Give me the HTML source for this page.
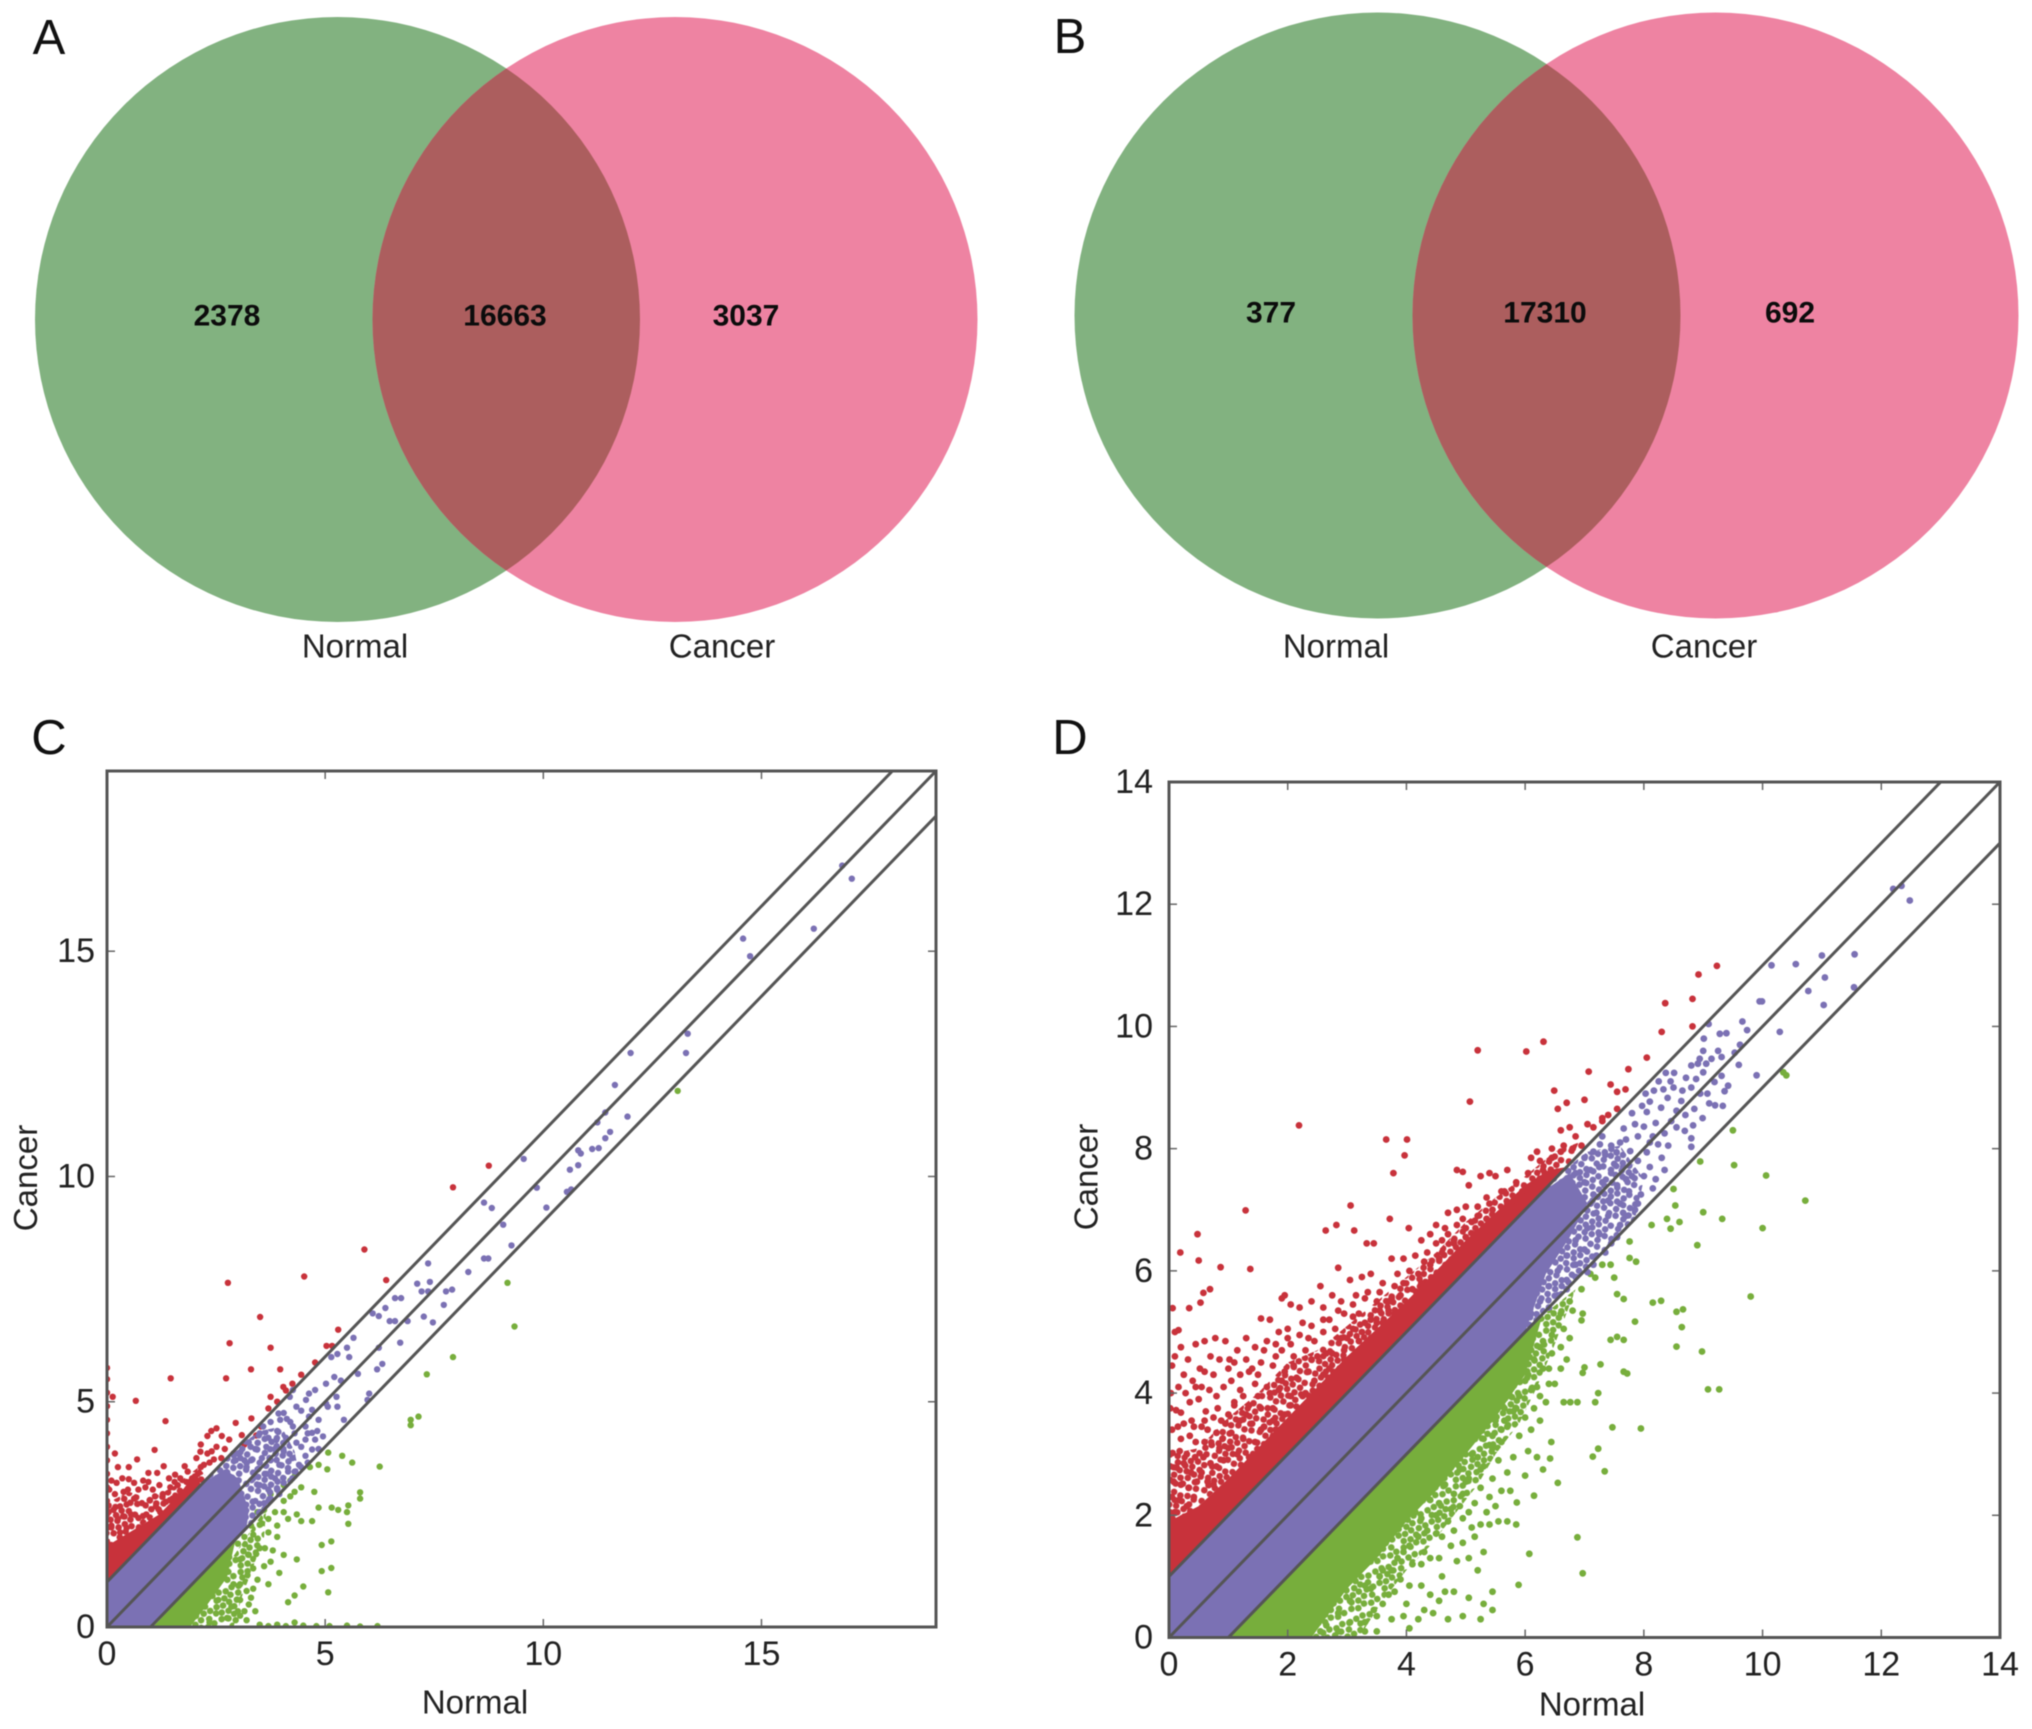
<!DOCTYPE html>
<html>
<head>
<meta charset="utf-8">
<title>Venn diagrams and scatter plots</title>
<style>
html,body{margin:0;padding:0;background:#fff;}
svg{display:block;filter:blur(.6px);}
text{font-family:"Liberation Sans",sans-serif;fill:#222;}
.num{font-weight:bold;font-size:30px;fill:#0c0c0c;text-anchor:middle;dominant-baseline:central;}
.lab{font-size:33px;text-anchor:middle;dominant-baseline:central;}
.panel{font-size:49px;text-anchor:middle;dominant-baseline:central;fill:#111;}
</style>
</head>
<body>
<svg id="fig" xmlns="http://www.w3.org/2000/svg" width="2032" height="1729" viewBox="0 0 2032 1729">
<defs>
<clipPath id="clipA"><circle cx="337.5" cy="319.5" r="302.5"/></clipPath>
<clipPath id="clipB"><circle cx="1377.5" cy="315.5" r="303"/></clipPath>
<g id="stipple-tile">
<circle cx="4" cy="4" r="3.3"/><circle cx="11" cy="3.4" r="3.3"/><circle cx="18" cy="5" r="3.3"/><circle cx="25" cy="3.4" r="3.3"/><circle cx="32" cy="5" r="3.3"/>
<circle cx="6" cy="10" r="3.3"/><circle cx="14" cy="11" r="3.3"/><circle cx="21" cy="10" r="3.3"/><circle cx="29" cy="11" r="3.3"/>
<circle cx="3.4" cy="16" r="3.3"/><circle cx="10" cy="17" r="3.3"/><circle cx="17" cy="16" r="3.3"/><circle cx="25" cy="17" r="3.3"/><circle cx="32" cy="17" r="3.3"/>
<circle cx="6" cy="23" r="3.3"/><circle cx="13" cy="24" r="3.3"/><circle cx="20" cy="22" r="3.3"/><circle cx="28" cy="24" r="3.3"/>
<circle cx="3.4" cy="29" r="3.3"/><circle cx="10" cy="31" r="3.3"/><circle cx="17" cy="29" r="3.3"/><circle cx="24" cy="31" r="3.3"/><circle cx="31" cy="30" r="3.3"/>
</g>
<pattern id="stipple-red" width="36" height="36" patternUnits="userSpaceOnUse" patternTransform="rotate(17)" fill="#c8323b"><use href="#stipple-tile"/></pattern>
<pattern id="stipple-green" width="36" height="36" patternUnits="userSpaceOnUse" patternTransform="rotate(-23)" fill="#77ae3c"><use href="#stipple-tile"/></pattern>
<pattern id="stipple-purple" width="36" height="36" patternUnits="userSpaceOnUse" patternTransform="rotate(31)" fill="#7b71b4"><use href="#stipple-tile"/></pattern>
</defs>
<rect width="2032" height="1729" fill="#fff"/>

<g>
<circle cx="337.5" cy="319.5" r="302.5" fill="#82b280"/>
<circle cx="675" cy="319.5" r="302.5" fill="#ee83a2"/>
<circle cx="675" cy="319.5" r="302.5" fill="#ac5e5e" clip-path="url(#clipA)"/>
<text class="num" x="227" y="316">2378</text>
<text class="num" x="505" y="316">16663</text>
<text class="num" x="746" y="316">3037</text>
<text class="lab" x="355" y="646">Normal</text>
<text class="lab" x="722" y="646">Cancer</text>
<text class="panel" x="49" y="38">A</text>
</g>

<g>
<circle cx="1377.5" cy="315.5" r="303" fill="#82b280"/>
<circle cx="1715.5" cy="315.5" r="303" fill="#ee83a2"/>
<circle cx="1715.5" cy="315.5" r="303" fill="#ac5e5e" clip-path="url(#clipB)"/>
<text class="num" x="1271" y="313">377</text>
<text class="num" x="1545" y="313">17310</text>
<text class="num" x="1790" y="313">692</text>
<text class="lab" x="1336" y="646">Normal</text>
<text class="lab" x="1704" y="646">Cancer</text>
<text class="panel" x="1070" y="37">B</text>
</g>

<g>
<text class="panel" x="49" y="738">C</text>
<text class="lab" x="475" y="1702">Normal</text>
<text class="lab" transform="translate(25.5 1178) rotate(-90)">Cancer</text>
</g>
<g>
<text class="panel" x="1070" y="738">D</text>
<text class="lab" x="1592" y="1704">Normal</text>
<text class="lab" transform="translate(1086 1177) rotate(-90)">Cancer</text>
</g>
<g id="plotC"></g>
<g id="plotD"></g>
</svg>

<script>
/* ---------- Panel C values (Normal, Cancer) ---------- */
const cTicks = [0, 5, 10, 15];
const cMax = 19;
const cFoldLines = [0, 1, -1];
const cRedSolid = [[0,1],[0,1.8],[.6,2.15],[1.2,2.5],[1.7,3.0],[2.05,3.45],[2.15,3.15]];
const cRedMottled = [[0,1.7],[0,2.75],[.5,3],[1,2.85],[1.5,3.1],[2.1,3.55],[2.3,3.3]];
const cPurpleSolid = [[1,0],[0,0],[0,1],[2.15,3.15],[2.7,3.5],[3,3.3],[3.25,2.6],[3.2,2.2]];
const cPurpleMottled = [[2.15,3.15],[3,4],[3.5,4.35],[4,4.45],[4.3,3.9],[4.4,3.4],[3.2,2.2]];
const cGreenSolid = [[1.05,0],[1.9,0],[2.3,.5],[2.75,1.1],[2.95,1.95]];
const cGreenMottled = [[1.8,0],[2.9,0],[3.1,.7],[3.3,1.2],[3.6,2],[3.65,2.65]];
const cRed = [[8.75,10.24],[7.93,9.76],[5.9,8.38],[4.52,7.78],[2.77,7.64],[6.4,7.7],[3.51,6.88],[5.3,6.6],[2.81,6.3],[3.75,6.2],[5.03,6.24],[5.16,6.24],[4.77,5.87],[1.46,5.52],[2.73,5.52],[3.3,5.72],[3.97,5.72],[4.04,5.33],[3.75,5.11],[4.1,5.25],[.13,5.11],[.66,5.02],[1.34,4.57],[1.09,3.93],[3.31,4.63],[2.95,4.53],[3.53,4.45],[2.51,4.41],[2.39,4.35],[2.63,4.24],[2.3,4.24],[2.51,4],[2.14,3.89],[3.09,4.26],[2.8,4.16],[.69,3.72],[1.3,3.57],[1.78,3.57],[1.56,3.38],[.35,3.3],[.5,3.28],[.62,3.2],[.83,3.25],[.88,3.1],[1.05,3.05],[1.2,3.15],[1.45,3.1],[1.62,3.15],[1.82,3.22],[1.95,3.3],[2.02,3.15],[1.88,3.05],[1.7,2.95],[1.5,2.85],[1.35,2.78],[1.12,2.68],[.98,2.82],[.8,2.75],[.62,2.85],[.45,2.72],[.3,2.68],[.15,2.6],[.25,2.4],[.4,2.45],[.55,2.5],[.72,2.42],[.9,2.5],[.18,2.95],[.38,3],[.05,3.05],[.1,2.25],[.3,2.1],[.45,2.2],[1.02,2.35],[1.22,2.55],[2.35,3.65],[2.45,3.72],[2.15,3.55],[2.62,3.75],[2.9,3.85],[3.15,4.05],[3.42,4.25],[3.7,4.85],[4.25,5.4],[4.45,5.6],[3.9,5.0],[0,1.6],[0,1.9],[0,2.2],[0,2.5],[0,2.8],[0,3.1],[0,3.4],[0,3.7],[0,4],[0,4.3],[0,4.6],[0,4.9],[0,5.2],[0,5.5],[0,5.75]];
const cRedExtra = [[.1,3.25],[.22,3.2],[.48,3.05],[.72,3.05],[.95,3.22],[1.1,2.9],[1.28,2.95],[1.42,3.3],[1.55,3.22],[1.68,3.3],[1.85,3.45],[2.08,3.4],[2.22,3.6],[.25,3.55],[.5,3.55],[.95,3.42],[1.15,3.42],[2.05,3.75],[2.4,3.9],[2.7,3.95],[2.15,4.05],[2.3,3.85],[.18,3.85]];
const cPurple = [[17.07,16.61],[16.85,16.9],[16.2,15.5],[14.58,15.28],[14.74,14.89],[13.31,13.17],[13.27,12.74],[12,12.74],[11.64,12.03],[11.93,11.33],[11.42,11.42],[11.24,11.2],[11.53,10.99],[11.42,10.85],[11.27,10.63],[11.12,10.61],[10.86,10.51],[10.8,10.58],[10.8,10.25],[10.61,10.15],[10.64,9.71],[10.54,9.66],[9.55,10.39],[9.85,9.75],[10.07,9.31],[8.64,9.42],[8.82,9.3],[9.08,8.93],[9.27,8.47],[8.64,8.18],[8.74,8.18],[8.28,7.88],[7.91,7.49],[7.77,7.45],[7.72,7.15],[7.36,8.07],[7.4,7.66],[7.11,7.62],[7.21,7.45],[7.36,7.45],[7.47,6.76],[7.26,6.89],[6.89,6.79],[6.6,6.79],[6.48,6.79],[6.74,7.3],[6.6,7.3],[6.38,7.08],[6.23,6.9],[6.09,6.96],[6.72,6.31],[6.23,6.2],[6.31,5.84],[6.19,5.72],[6.01,5.18],[5.97,5.04],[5.75,5.62],[5.65,6.42],[5.5,6.2],[5.28,6.06],[5.14,5.99],[5.55,5.99],[5.21,5.55],[5.36,5.47],[5.02,5.4],[4.77,5.26],[4.63,5.18],[4.56,5.04],[5.26,5.11],[5.02,4.96],[4.7,4.82],[5.06,4.89],[5.28,4.89],[5.43,4.6],[4.26,5.26],[4.19,5.11],[4.34,4.89],[3.93,4.74],[3.97,4.6],[4.63,4.67],[4.26,4.45],[4.55,4.45],[4.7,4.31],[4.95,4.23],[4.77,4.16],[4.55,4.16],[4.34,4.09],[4.7,3.94],[3.5,4.3],[3.7,4.2],[3.9,4.35],[4.1,4.2],[3.65,4],[3.85,3.95],[4.05,3.9],[4.25,3.75],[3.4,3.95],[3.55,3.75],[3.75,3.7],[3.95,3.6],[4.15,3.45],[4.4,3.6],[3.3,3.7],[3.45,3.5],[3.65,3.4],[3.85,3.3],[4.05,3.2],[3.2,3.55],[3.5,3.15],[3.7,3.05],[3.9,3.05],[3.4,2.8],[3.6,2.75],[3.75,2.85],[3.35,3.3],[3.15,3.7],[2.95,3.7],[3,3.85],[3.25,4.1],[3.1,3.95],[4.45,4.0],[4.2,4.55],[4.05,4.75]];
const cPurpleExtra = [[3.58,4.45],[3.75,4.55],[3.88,4.15],[4.12,4.62],[4.3,4.3],[4.45,4.8],[4.6,4.3],[4.85,4.6],[4.82,4.35],[4.3,3.45],[4.45,3.55],[4.55,3.8],[4.85,3.95],[4.6,3.65],[4.25,3.3],[3.95,2.95],[3.5,2.55],[3.7,2.8]];
const cGreen = [[13.08,11.9],[9.34,6.67],[9.18,7.64],[7.93,5.99],[7.33,5.61],[7.14,4.67],[6.96,4.6],[6.96,4.48],[6.25,3.56],[5.62,3.65],[5.39,3.8],[5.07,3.87],[5.8,2.99],[5.8,2.85],[5.53,2.7],[5.5,2.55],[5.53,2.29],[5.3,2.6],[5.15,2.65],[5.05,3.5],[4.85,3.6],[4.65,3.55],[4.75,3],[4.45,3.1],[4.3,3],[4.2,2.9],[4.05,2.8],[4.35,2.5],[4.15,2.4],[4.45,2.35],[4.85,2.65],[4.7,2.35],[5.07,.77],[4.92,1.24],[5.14,1.31],[5.14,1.9],[4.92,1.82],[4.5,.9],[4.3,.7],[4.15,.55],[4.35,1.5],[4.05,1.6],[3.8,1.7],[3.9,2],[3.7,2.1],[3.55,2.3],[3.35,2.05],[3.5,1.75],[3.25,1.6],[3.05,1.5],[3.35,1.3],[3.6,1.35],[3.7,.95],[3.35,.85],[3.1,1.1],[2.9,.95],[2.65,1.25],[3.05,.6],[2.85,.45],[2.55,.6],[3.25,.5],[3.4,.35],[3.05,.25],[2.75,.2],[2.5,.3],[2.35,.1],[3.2,.15],[3.5,.05],[3.7,.02],[3.9,.05],[4.1,.02],[4.3,.1],[4.5,.03],[4.8,.02],[5.1,.02],[5.5,.03],[5.8,.01],[6.2,.02],[2.8,1.55],[3,1.85],[3.15,2],[3.3,2.25],[3.45,2.55],[3.6,2.6],[3.75,2.95]];
const cGreenExtra = [[3.05,.95],[3.22,1.15],[3.42,1.62],[3.62,1.75],[3.75,1.45],[3.2,.8],[3,.35],[3.3,.65],[3.45,1.05],[3.85,2.55],[3.9,2.25],[4.05,2.55],[3.7,2.4],[3.9,3.05],[4.05,3.15],[4.2,3.25],[4.3,3.35],[3.95,1.2],[3.15,.35],[2.95,.15]];

/* ---------- Panel D values (Normal, Cancer) ---------- */
const dTicks = [0, 2, 4, 6, 8, 10, 12, 14];
const dMax = 14;
const dFoldLines = [0, 1, -1];
const dRedSolid = [[0,1],[0,1.9],[.5,2.15],[1,2.6],[1.5,3.1],[2,3.6],[2.5,4.1],[3,4.6],[3.5,5.05],[4,5.5],[4.5,6],[5,6.5],[5.5,6.95],[6,7.4],[6.4,7.65],[6.7,7.7]];
const dRedMottled = [[0,1.7],[0,3],[.5,3.1],[1,3.6],[1.5,4],[2,4.5],[2.5,4.7],[3,5.1],[3.5,5.5],[4,5.9],[4.5,6.3],[5,6.8],[5.5,7.2],[6,7.55],[6.5,7.95],[6.9,8.1],[6.75,7.75]];
const dPurpleSolid = [[1,0],[0,0],[0,1],[6.3,7.3],[6.75,7.6],[7.05,7.1],[6.75,6.55],[6.35,5.95],[6,5]];
const dPurpleMottled = [[6,5],[7,6],[7.85,6.85],[8,7.5],[7.6,8.05],[7.05,7.95],[6.65,7.65],[6.4,7.4]];
const dGreenSolid = [[1,0],[2.4,0],[3,.8],[3.5,1.3],[4,1.9],[4.5,2.4],[5,3],[5.5,3.6],[6,4.3],[6.3,5.3]];
const dGreenMottled = [[2.2,0],[3.2,0],[3.6,.6],[4,1.1],[4.4,1.5],[4.8,2],[5.2,2.5],[5.5,3],[5.9,3.5],[6.2,4.1],[6.5,4.8],[6.85,5.7],[6.2,5.2]];
const dRed = [[9.23,10.99],[8.92,10.85],[8.82,10.45],[8.36,10.38],[8.82,10],[8.3,9.91],[8.05,9.49],[7.74,9.3],[7.07,9.26],[7.44,9.05],[7.69,8.97],[7.55,8.93],[6.49,8.95],[6.31,9.75],[6.02,9.59],[5.2,9.61],[5.07,8.77],[2.19,8.38],[3.66,8.15],[4.01,8.15],[3.97,7.89],[3.78,7.6],[1.29,6.99],[3.06,7.07],[2.64,6.66],[2.82,6.75],[3.12,6.66],[.48,6.6],[.19,6.3],[3.72,6.85],[4.04,6.7],[3.33,6.45],[3.45,6.45],[.5,6.17],[.87,6.06],[1.37,6.03],[2.85,6.05],[.69,5.7],[.58,5.64],[.53,5.48],[.34,5.39],[.06,5.39],[.16,5.03],[7.3,8.45],[7.55,8.65],[7.4,8.55],[7.15,8.35],[6.55,8.65],[6.7,8.75],[6.75,8.35],[6.6,8.3],[6.85,8.2],[6.95,8.05],[7.05,8.4],[7,8.8],[7.3,8.5],[6.6,7.95],[6.45,7.85],[6.3,7.65],[6.2,7.95],[6.1,7.85],[5.95,7.3],[5.7,7.65],[5.4,7.6],[5.25,7.55],[5.5,7.55],[4.85,7.65],[4.95,7.62],[5.05,7.4],[5.35,7.2],[5.6,7.3],[5.85,7.2],[5.7,7.1],[5.45,7],[5.2,7.05],[5,7.05],[4.85,7],[4.7,6.95],[4.5,6.75],[4.65,6.7],[4.85,6.75],[5.1,6.8],[5.35,6.85],[4.6,6.5],[4.4,6.6],[4.25,6.5],[4.15,6.25],[4.35,6.3],[4.55,6.2],[4.8,6.45],[5,6.55],[3.95,6.2],[3.75,6.2],[3.85,5.95],[3.6,5.8],[3.4,5.95],[3.25,5.9],[3.05,5.85],[3.15,5.6],[3.35,5.65],[3.5,5.5],[3.7,5.5],[3.9,5.6],[4.1,5.7],[2.95,5.3],[3.2,5.3],[3.4,5.2],[3.6,5.15],[3.8,5.3],[2.75,5.6],[2.55,5.75],[2.4,5.5],[2.2,5.4],[2.05,5.45],[1.95,5.6],[1.9,5.55],[2.6,5.4],[2.8,5.05],[3,4.9],[3.2,4.85],[3.4,4.9],[2.6,5],[2.4,5.1],[2.2,4.95],[2,5.05],[1.85,5],[1.7,5.2],[1.55,5.22],[1.65,4.85],[1.45,4.75],[1.3,4.9],[1.15,4.7],[1.9,4.7],[2.1,4.6],[2.3,4.7],[2.5,4.6],[2.75,4.65],[2.95,4.55],[3.15,4.55],[1.55,4.5],[1.75,4.45],[1.95,4.35],[2.15,4.25],[2.35,4.35],[2.6,4.3],[2.8,4.25],[1.35,4.35],[1.2,4.3],[1.05,4.2],[1.45,4.15],[1.65,4.1],[1.85,4.05],[2.05,3.95],[2.3,4],[2.5,4],[1.25,3.95],[1.1,3.85],[1.35,3.8],[1.55,3.75],[1.75,3.75],[1.95,3.65],[2.2,3.7],[1,3.65],[1.2,3.55],[1.4,3.5],[1.6,3.45],[1.8,3.4],[1.05,3.35],[1.25,3.25],[1.45,3.2],[1.65,3.1],[1.15,3],[1.35,2.95],[1,3.1],[.9,3.25],[.92,2.9],[.85,3.1],[.8,2.8],[.72,3.15],[.7,2.85],[.65,2.55],[.75,2.5],[.58,2.95],[.55,2.7],[.6,3.2],[.85,2.4],[.55,3.45],[.65,3.4],[.8,3.35],[.95,3.5],[.62,3.7],[.75,3.6],[.88,3.55],[.55,4.1],[.68,4.05],[.8,3.95],[.92,4.1],[.6,4.35],[.75,4.3],[.85,4.55],[.7,4.6],[.6,4.85],[.78,4.9],[1.02,4.55],[.95,4.85],[.03,1.9],[.1,2.05],[.22,1.95],[.05,2.3],[.17,2.25],[.3,2.15],[.38,2.02],[.08,2.55],[.2,2.5],[.33,2.45],[.42,2.3],[.02,2.8],[.13,2.78],[.25,2.85],[.37,2.7],[.47,2.55],[.06,3.02],[.18,3.05],[.3,3],[.44,2.95],[.02,3.75],[.12,3.72],[.2,3.68],[.03,4],[.16,4.1],[.28,4],[.38,3.55],[.25,3.5],[.42,3.45],[.1,4.6],[.2,4.75],[.32,4.55],[.45,4.8],[.52,4.4],[.1,5]];
const dRedExtra = [[1.1,3.8],[1.3,3.65],[1.5,3.95],[1.7,4.0],[1.9,4.2],[2.1,4.45],[2.4,4.55],[2.65,4.65],[2.9,4.9],[3.1,5.05],[3.3,5.15],[3.55,5.35],[3.75,5.55],[3.95,5.8],[4.2,5.95],[4.4,6.1],[4.6,6.3],[4.8,6.5],[5,6.7],[5.2,6.9],[5.4,7.1],[5.65,7.3],[5.85,7.45],[6.05,7.6],[6.25,7.8],[6.45,8],[6.65,8.05],[6.8,8],[1.2,4.05],[1.5,4.3],[1.8,4.6],[2.05,4.8],[2.35,4.9],[2.6,5.2],[2.85,5.35],[3.1,5.45],[3.3,5.55],[3.55,5.65],[3.8,5.75],[4.05,6.0],[4.3,6.15],[4.5,6.45],[4.7,6.6],[4.95,6.85],[5.15,6.6],[5.4,6.65],[5.6,6.85],[5.85,7.05],[6.05,7.3],[1.55,3.4],[1.75,3.55],[2.05,3.8],[2.25,3.95],[2.45,4.2],[2.7,4.4],[2.95,4.7],[3.25,5],[3.5,5.15],[3.7,5.35],[4.25,5.8],[.45,3.2],[.2,3.25],[.05,3.4],[.15,3.45],[.35,3.3],[.6,3.55],[.82,3.75],[1,4.4],[1.1,4.5],[1.3,4.55],[1.4,4.4],[1.6,4.7],[1.8,4.8],[2,4.9],[2.25,5.15],[2.45,4.85],[2.7,5.2],[2.9,5.5],[3.1,5.25],[.4,4.2],[.25,4.3],[.05,4.45],[.35,3.85],[.5,3.9],[.45,4.1]];
const dPurple = [[12.2,12.25],[12.34,12.3],[12.48,12.06],[11.55,11.18],[11,11.16],[10.56,11.02],[10.15,11],[11.05,10.8],[10.77,10.58],[11.54,10.64],[11.03,10.35],[9.95,10.41],[9.99,10.41],[9.66,10.08],[9.74,9.94],[10.29,9.91],[9.28,9.88],[9.39,9.89],[9.09,10.04],[9.01,9.8],[9.6,9.37],[9.9,9.2],[9.62,9.7],[9.53,9.57],[9,9.6],[9.25,9.6],[9.31,9.5],[9.14,9.47],[8.94,9.47],[8.8,9.36],[8.91,9.39],[9.05,9.39],[9,9.25],[8.88,9.14],[8.8,9],[9.31,9.19],[9.42,9.03],[9.36,8.94],[9.19,9.09],[9.07,8.9],[9.1,8.74],[9.2,8.71],[9.33,8.7],[8.99,8.5],[8.83,8.38],[8.69,8.29],[8.8,8.17],[8.8,8.03],[8.41,8.05],[8.71,9.16],[8.51,9.24],[8.37,9.24],[8.5,9],[8.33,8.97],[8.17,8.95],[8.03,8.9],[8.1,8.77],[7.97,8.7],[8.4,8.83],[8.63,8.78],[8.55,8.62],[8.46,8.45],[8.29,8.67],[8.2,8.42],[8,8.36],[7.8,8.58],[7.66,8.33],[7.9,8.2],[7.6,8.1],[7.77,7.96],[7.54,7.94],[8.05,7.94],[8.24,8.07],[7.26,8.07],[7.5,7.75],[7.35,7.9],[7.15,7.95],[7,7.85],[7.1,7.65],[7.25,7.7],[7.45,7.6],[7.65,7.7],[7.8,7.55],[8,7.55],[8.2,7.5],[7.3,7.45],[7.55,7.4],[7.75,7.3],[7.95,7.25],[7.15,7.25],[7.4,7.15],[7.6,7.1],[7.85,7],[7,7.45],[6.85,7.6],[7.2,6.95],[7.4,6.9],[7.6,6.75],[7.05,6.7],[7.25,6.6],[7.45,6.45],[6.85,6.5],[7,6.35],[7.2,6.25],[6.7,6.25],[6.85,6.1],[7.05,5.98],[6.55,6],[6.7,5.85],[6.85,5.9],[6.4,5.75],[6.55,5.6],[6.7,5.7],[6.25,5.5],[6.4,5.4],[6.1,5.3],[7.7,6.9],[6.85,7.05],[7.1,7.1]];
const dPurpleExtra = [[8.15,8.2],[8.35,8.25],[8.55,8.35],[8.7,8.55],[8.85,8.65],[8.95,8.9],[8.65,8.95],[8.45,9.1],[8.25,9.1],[8.05,8.6],[7.85,8.4],[7.7,8.15],[7.45,8.05],[7.3,8.2],[8.1,8.1],[8.3,7.85],[8.1,7.7],[7.9,7.8],[7.7,7.5],[8.15,7.35],[7.9,7.1],[7.65,6.95],[8.35,7.65],[7.55,6.55],[7.35,6.3],[7.15,6.1]];
const dGreen = [[10.72,7.15],[10.06,7.56],[9.52,7.73],[9.5,8.3],[8.95,7.79],[10.4,9.2],[10.35,9.25],[10,6.7],[9,6.96],[9.32,6.85],[8.9,6.42],[9.8,5.58],[8.98,4.68],[9.08,4.06],[9.27,4.06],[8.55,4.76],[8.64,5.08],[8.66,5.37],[8.55,5.33],[8.29,5.51],[8.15,5.48],[7.85,5.17],[7.95,3.42],[7.47,3.44],[7.23,3.09],[7.14,2.96],[7.34,2.72],[6.88,1.64],[6.97,1.05],[6.07,1.37],[5.89,.86],[6.15,2.32],[5.86,2.21],[6.44,3.2],[6.42,2.93],[6.55,2.53],[6.76,3.85],[6.65,3.85],[6.88,3.85],[7.23,4],[7.18,3.85],[7.66,4.35],[7.72,4.32],[7.55,4.92],[7.44,4.87],[7.66,4.87],[7.27,4.47],[6.97,4.33],[7,4.42],[6.95,5.19],[6.97,5.3],[7.18,5.89],[7.55,5.62],[7.66,5.54],[7.87,6.15],[7.76,6.21],[7.5,5.89],[7.44,6.1],[7.76,6.48],[8.13,6.75],[8.39,6.85],[8.6,6.8],[8.45,6.69],[8.53,7.07],[8.5,7.34],[7.3,6.1],[7.1,5.95],[6.95,5.7],[6.75,5.5],[6.6,5.3],[6.45,4.95],[6.3,4.85],[6.15,4.55],[6.4,4.4],[6.6,4.75],[6.75,4.9],[6,4.2],[5.9,3.95],[6.2,4.1],[6.35,3.85],[6.5,4.15],[5.8,3.7],[6,3.6],[6.15,3.75],[5.7,3.45],[5.9,3.3],[6.05,3.05],[5.6,3.2],[5.8,2.95],[5.55,2.9],[5.7,2.7],[5.45,3.1],[5.3,2.8],[5.45,2.6],[5.25,2.45],[5.4,2.3],[5.55,1.9],[5.7,1.9],[5.85,1.85],[5.4,1.85],[5.25,1.85],[5.1,1.8],[4.95,1.95],[5.3,1.4],[5.05,1.3],[4.85,1.25],[5.2,1.1],[5.45,.75],[5.3,.55],[5.05,.65],[4.8,.75],[4.95,.35],[5.45,.45],[5.25,.3],[4.7,.3],[4.45,.4],[4.3,.45],[4.55,.6],[4.25,.85],[4.05,.85],[3.8,.75],[3.6,.55],[4.05,.15],[3.75,.3],[3.45,.45],[3.3,.25],[3.5,.1],[4.6,1],[4.4,1.3],[4.75,1.5],[4.2,1.65],[3.95,1.4],[3.75,1.1],[3.55,1],[3.3,.85],[3.05,.6],[2.85,.4],[2.65,.2],[3.15,1.15],[3.4,1.35],[3.65,1.55],[3.9,1.85],[4.15,2.05],[4.4,2.25],[4.65,2.5],[4.9,2.75],[5.1,3],[5.3,3.25],[5.5,3.55],[5.15,3.55],[4.95,3.35],[4.7,3.05],[4.45,2.9],[4.2,2.45],[4.5,2],[4.75,2.1],[4.95,2.35],[5.15,2.2],[4.35,1.75],[4.6,1.65],[3.5,1.75],[3.75,2.05],[3.2,1.55],[2.9,1.1],[2.7,.85],[2.45,.35],[2.35,.55],[2.25,.15],[2.55,.1],[2.85,.1],[3.05,.25],[5.6,4],[5.8,4.15],[5.45,3.85],[5.25,3.7],[5.65,3.75],[6.05,4.6],[5.95,4.45],[6.25,4.75]];
const dGreenExtra = [[3.3,.1],[3.5,.35],[3.7,.7],[3.9,.95],[4.1,1.2],[4.3,1.4],[4.5,1.7],[4.7,1.9],[4.9,2.15],[5.05,2.6],[5.25,2.75],[5.45,3.3],[5.65,3.55],[5.85,3.75],[6.1,4.05],[6.3,4.4],[6.45,4.65],[6.65,5.05],[6.8,5.35],[3.4,.8],[3.6,1.1],[3.85,1.3],[4.05,1.5],[4.25,1.95],[4.55,2.2],[4.8,2.35],[5,2.55],[5.2,2.95],[5.4,3.15],[5.6,3.4],[5.75,3.95],[6.05,4.3],[6.25,3.95],[6.4,4.15],[4,.55],[4.2,.3],[4.4,.7],[4.65,.75],[3.95,.35],[4.25,1.2],[4.55,1.3],[4.95,1.55],[5.15,1.65],[5.35,2.05],[5.6,2.4],[5.05,2.05],[4.8,1.75],[5.5,2.15],[6.1,3.4],[6.25,3.55],[6.6,4.4],[6.7,4.55],[6.2,2.95],[6.3,2.75],[6,2.65],[5.75,2.4]];

const svgNS = 'http://www.w3.org/2000/svg';
function make(parent, tag, attrs) {
  const el = document.createElementNS(svgNS, tag);
  for (const k in attrs) el.setAttribute(k, attrs[k]);
  parent.appendChild(el);
  return el;
}
function polygon(parent, pts, fill, name, sx, sy) {
  const d = pts.map(p => sx(p[0]).toFixed(1) + ',' + sy(p[1]).toFixed(1)).join(' ');
  const el = make(parent, 'polygon', {points: d, fill: fill});
  
  
}
function dots(parent, pts, fill, r, name, sx, sy) {
  const g = make(parent, 'g', {fill: fill});
  
  
  pts.forEach(p => {
    const c = make(g, 'circle', {cx: sx(p[0]).toFixed(1), cy: sy(p[1]).toFixed(1), r: r});
    
    
  });
}
function drawPlot(cfg) {
  const root = document.getElementById(cfg.id);
  const sx = v => cfg.left + (cfg.right - cfg.left) * v / cfg.max;
  const sy = v => cfg.bottom - (cfg.bottom - cfg.top) * v / cfg.max;
  const clipId = 'clip-' + cfg.id;
  const defs = make(root, 'defs', {});
  const cp = make(defs, 'clipPath', {id: clipId});
  make(cp, 'rect', {x: cfg.left, y: cfg.top, width: cfg.right - cfg.left, height: cfg.bottom - cfg.top});
  const body = make(root, 'g', {'clip-path': 'url(#' + clipId + ')'});
  
  
  const red = '#c8323b', purple = '#7b71b4', green = '#77ae3c';
  polygon(body, cfg.redMottled, 'url(#stipple-red)', 'up-regulated-mottled-region', sx, sy);
  polygon(body, cfg.greenMottled, 'url(#stipple-green)', 'down-regulated-mottled-region', sx, sy);
  polygon(body, cfg.redSolid, red, 'up-regulated-dense-region', sx, sy);
  polygon(body, cfg.greenSolid, green, 'down-regulated-dense-region', sx, sy);
  dots(body, cfg.red, red, cfg.r, 'up-regulated', sx, sy);
  dots(body, cfg.green, green, cfg.r, 'down-regulated', sx, sy);
  polygon(body, cfg.purpleMottled, 'url(#stipple-purple)', 'unchanged-mottled-region', sx, sy);
  polygon(body, cfg.purpleSolid, purple, 'unchanged-dense-region', sx, sy);
  dots(body, cfg.purple, purple, cfg.r, 'unchanged', sx, sy);
  cfg.lines.forEach(off => {
    const l = make(body, 'line', {x1: sx(0), y1: sy(off), x2: sx(cfg.max), y2: sy(cfg.max + off), stroke: '#555', 'stroke-width': 3});
    
    
  });
  cfg.ticks.forEach(t => {
    if (t > 0 && t < cfg.max) {
      const segs = [[sx(t), cfg.bottom, sx(t), cfg.bottom - 8], [sx(t), cfg.top, sx(t), cfg.top + 8], [cfg.left, sy(t), cfg.left + 8, sy(t)], [cfg.right, sy(t), cfg.right - 8, sy(t)]];
      segs.forEach(s => {
        const k = make(root, 'line', {x1: s[0], y1: s[1], x2: s[2], y2: s[3], stroke: '#666', 'stroke-width': 1.5});
        
        
      });
    }
    const xl = make(root, 'text', {x: sx(t), y: cfg.bottom + cfg.xGap, 'text-anchor': 'middle', 'dominant-baseline': 'central', 'font-size': 34});
    xl.textContent = t;
    
    
    const yl = make(root, 'text', {x: cfg.left - cfg.yGap, y: sy(t), 'text-anchor': 'end', 'dominant-baseline': 'central', 'font-size': 34});
    yl.textContent = t;
    
    
  });
  const frame = make(root, 'rect', {x: cfg.left, y: cfg.top, width: cfg.right - cfg.left, height: cfg.bottom - cfg.top, fill: 'none', stroke: '#555', 'stroke-width': 3});
  
  
}
drawPlot({id: 'plotC', left: 107, right: 936, top: 771, bottom: 1627, max: cMax, ticks: cTicks, lines: cFoldLines, redSolid: cRedSolid, redMottled: cRedMottled, purpleSolid: cPurpleSolid, purpleMottled: cPurpleMottled, greenSolid: cGreenSolid, greenMottled: cGreenMottled, red: cRed.concat(cRedExtra), purple: cPurple.concat(cPurpleExtra), green: cGreen.concat(cGreenExtra), r: 3.2, xGap: 27, yGap: 12});
drawPlot({id: 'plotD', left: 1169, right: 2000, top: 782, bottom: 1637.5, max: dMax, ticks: dTicks, lines: dFoldLines, redSolid: dRedSolid, redMottled: dRedMottled, purpleSolid: dPurpleSolid, purpleMottled: dPurpleMottled, greenSolid: dGreenSolid, greenMottled: dGreenMottled, red: dRed.concat(dRedExtra), purple: dPurple.concat(dPurpleExtra), green: dGreen.concat(dGreenExtra), r: 3.4, xGap: 27, yGap: 16});
</script>
</body>
</html>
